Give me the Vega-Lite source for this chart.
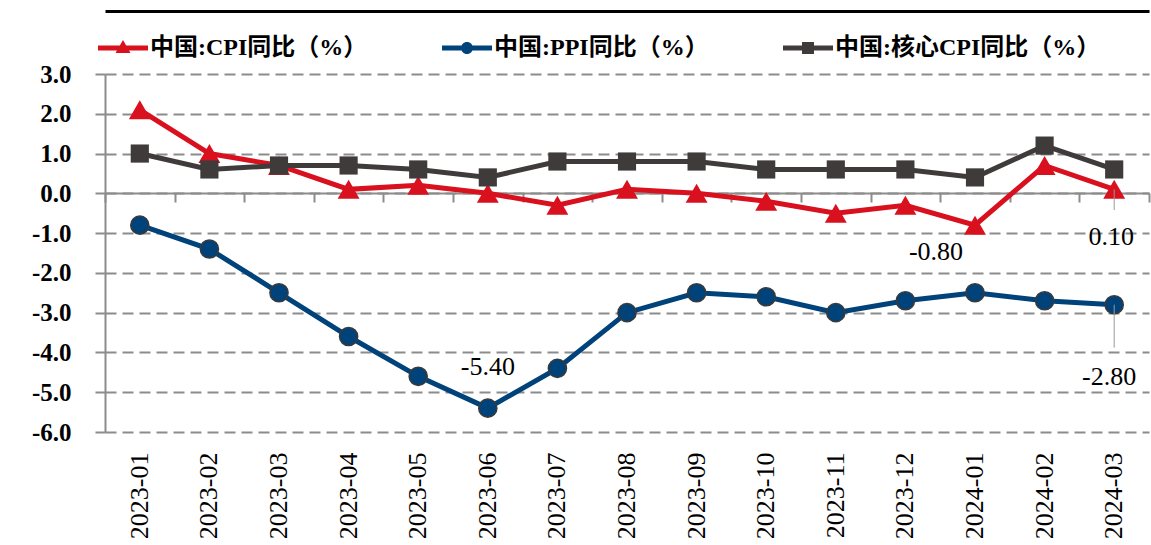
{
  "$schema": "https://vega.github.io/schema/vega-lite/v6.json",
  "width": 1044,
  "height": 358,
  "autosize": "none",
  "padding": {"left": 105, "top": 74, "right": 2, "bottom": 113},
  "background": "white",
  "config": {"view": {"stroke": null}, "font": "Liberation Serif",
             "locale": {"number": {"decimal": ".", "thousands": ",", "grouping": [3], "currency": ["$", ""], "minus": "-"}}},
  "data": {"values": [
    {"month": "2023-01", "series": "中国:CPI同比（%）", "value": 2.1},
    {"month": "2023-02", "series": "中国:CPI同比（%）", "value": 1.0},
    {"month": "2023-03", "series": "中国:CPI同比（%）", "value": 0.7},
    {"month": "2023-04", "series": "中国:CPI同比（%）", "value": 0.1},
    {"month": "2023-05", "series": "中国:CPI同比（%）", "value": 0.2},
    {"month": "2023-06", "series": "中国:CPI同比（%）", "value": 0.0},
    {"month": "2023-07", "series": "中国:CPI同比（%）", "value": -0.3},
    {"month": "2023-08", "series": "中国:CPI同比（%）", "value": 0.1},
    {"month": "2023-09", "series": "中国:CPI同比（%）", "value": 0.0},
    {"month": "2023-10", "series": "中国:CPI同比（%）", "value": -0.2},
    {"month": "2023-11", "series": "中国:CPI同比（%）", "value": -0.5},
    {"month": "2023-12", "series": "中国:CPI同比（%）", "value": -0.3},
    {"month": "2024-01", "series": "中国:CPI同比（%）", "value": -0.8},
    {"month": "2024-02", "series": "中国:CPI同比（%）", "value": 0.7},
    {"month": "2024-03", "series": "中国:CPI同比（%）", "value": 0.1},
    {"month": "2023-01", "series": "中国:PPI同比（%）", "value": -0.8},
    {"month": "2023-02", "series": "中国:PPI同比（%）", "value": -1.4},
    {"month": "2023-03", "series": "中国:PPI同比（%）", "value": -2.5},
    {"month": "2023-04", "series": "中国:PPI同比（%）", "value": -3.6},
    {"month": "2023-05", "series": "中国:PPI同比（%）", "value": -4.6},
    {"month": "2023-06", "series": "中国:PPI同比（%）", "value": -5.4},
    {"month": "2023-07", "series": "中国:PPI同比（%）", "value": -4.4},
    {"month": "2023-08", "series": "中国:PPI同比（%）", "value": -3.0},
    {"month": "2023-09", "series": "中国:PPI同比（%）", "value": -2.5},
    {"month": "2023-10", "series": "中国:PPI同比（%）", "value": -2.6},
    {"month": "2023-11", "series": "中国:PPI同比（%）", "value": -3.0},
    {"month": "2023-12", "series": "中国:PPI同比（%）", "value": -2.7},
    {"month": "2024-01", "series": "中国:PPI同比（%）", "value": -2.5},
    {"month": "2024-02", "series": "中国:PPI同比（%）", "value": -2.7},
    {"month": "2024-03", "series": "中国:PPI同比（%）", "value": -2.8},
    {"month": "2023-01", "series": "中国:核心CPI同比（%）", "value": 1.0},
    {"month": "2023-02", "series": "中国:核心CPI同比（%）", "value": 0.6},
    {"month": "2023-03", "series": "中国:核心CPI同比（%）", "value": 0.7},
    {"month": "2023-04", "series": "中国:核心CPI同比（%）", "value": 0.7},
    {"month": "2023-05", "series": "中国:核心CPI同比（%）", "value": 0.6},
    {"month": "2023-06", "series": "中国:核心CPI同比（%）", "value": 0.4},
    {"month": "2023-07", "series": "中国:核心CPI同比（%）", "value": 0.8},
    {"month": "2023-08", "series": "中国:核心CPI同比（%）", "value": 0.8},
    {"month": "2023-09", "series": "中国:核心CPI同比（%）", "value": 0.8},
    {"month": "2023-10", "series": "中国:核心CPI同比（%）", "value": 0.6},
    {"month": "2023-11", "series": "中国:核心CPI同比（%）", "value": 0.6},
    {"month": "2023-12", "series": "中国:核心CPI同比（%）", "value": 0.6},
    {"month": "2024-01", "series": "中国:核心CPI同比（%）", "value": 0.4},
    {"month": "2024-02", "series": "中国:核心CPI同比（%）", "value": 1.2},
    {"month": "2024-03", "series": "中国:核心CPI同比（%）", "value": 0.6}
  ]},
  "encoding": {
    "y": {"field": "value", "type": "quantitative",
          "scale": {"domain": [-6, 3], "nice": false, "zero": false},
          "axis": {"title": null, "values": [-6, -5, -4, -3, -2, -1, 0, 1, 2, 3], "format": ".1f",
                   "labelOverlap": false, "tickCount": 10,
                   "labelFont": "Liberation Serif", "labelFontWeight": "bold", "labelFontSize": 25,
                   "labelColor": "black", "labelPadding": 24,
                   "grid": true, "gridDash": [11, 6], "gridColor": "#8c8c8c", "gridWidth": 2,
                   "tickColor": "#8c8c8c", "tickSize": 10, "tickWidth": 2,
                   "domainColor": "#8c8c8c", "domainWidth": 2}}
  },
  "layer": [
    {
      "mark": {"type": "line", "strokeWidth": 5},
      "encoding": {
        "x": {"field": "month", "type": "ordinal", "sort": null,
              "scale": {"type": "band", "paddingInner": 0, "paddingOuter": 0},
              "axis": {"title": null, "labelAngle": -90, "labelAlign": "right", "labelBaseline": "middle",
                       "labelFont": "Liberation Serif", "labelFontSize": 26, "labelColor": "black",
                       "labelPadding": 20, "domain": false, "ticks": false, "grid": false}},
        "color": {"field": "series", "type": "nominal",
                  "scale": {"domain": ["中国:CPI同比（%）", "中国:PPI同比（%）", "中国:核心CPI同比（%）"],
                            "range": ["#d9101e", "#00427a", "#3f3b3a"]},
                  "legend": {"title": null, "orient": "none", "legendX": -7, "legendY": -51,
                             "direction": "horizontal",
                             "labelFont": "'Liberation Serif', 'Noto Sans CJK SC'", "labelFontSize": 24,
                             "labelFontWeight": "bold", "labelColor": "black", "labelLimit": 500,
                             "symbolSize": 2500, "symbolStrokeWidth": 0, "labelOffset": 2, "columnPadding": 74,
                             "encode": {"symbols": {"update": {
                               "shape": {"signal": "datum.value === '中国:核心CPI同比（%）' ? 'M-1,-0.1H1V0.1H-1Z M-0.24,-0.24H0.24V0.24H-0.24Z' : (datum.value === '中国:PPI同比（%）' ? 'M-1,-0.1H1V0.1H-1Z M0.24,0A0.24,0.24 0 1,1 -0.24,0A0.24,0.24 0 1,1 0.24,0Z' : 'M-1,-0.1H1V0.1H-1Z M0,-0.32L0.3,0.2H-0.3Z')"},
                               "fill": {"scale": "color", "field": "value"},
                               "stroke": {"value": "transparent"},
                               "opacity": {"value": 1}}}}}}
      }
    },
    {
      "transform": [{"filter": "datum.series === '中国:CPI同比（%）'"}],
      "mark": {"type": "point", "filled": true, "opacity": 1, "shape": "triangle-up", "size": 480, "color": "#d9101e"},
      "encoding": {
        "x": {"field": "month", "type": "ordinal", "sort": null,
              "axis": {"title": null, "labels": false, "grid": false, "ticks": true, "tickBand": "extent",
                       "tickSize": 9, "tickColor": "#8c8c8c", "tickWidth": 2,
                       "domainColor": "#8c8c8c", "domainWidth": 2, "offset": -239, "orient": "bottom"}}
      }
    },
    {
      "transform": [{"filter": "datum.series === '中国:PPI同比（%）'"}],
      "mark": {"type": "point", "filled": true, "opacity": 1, "shape": "circle", "size": 330, "fill": "#00427a", "stroke": "#3a3a3a", "strokeWidth": 1.5},
      "encoding": {
        "x": {"field": "month", "type": "ordinal", "sort": null, "axis": null}
      }
    },
    {
      "transform": [{"filter": "datum.series === '中国:核心CPI同比（%）'"}],
      "mark": {"type": "point", "filled": true, "opacity": 1, "shape": "square", "size": 330, "color": "#3f3b3a"},
      "encoding": {
        "x": {"field": "month", "type": "ordinal", "sort": null, "axis": null}
      }
    },
    {
      "transform": [{"filter": "datum.month === '2024-03' && datum.series === '中国:CPI同比（%）'"}],
      "mark": {"type": "rule", "color": "#999999", "strokeWidth": 1},
      "encoding": {
        "x": {"field": "month", "type": "ordinal", "sort": null,
              "axis": {"orient": "top", "title": null, "labels": false, "ticks": false, "grid": false,
                       "domainColor": "black", "domainWidth": 3, "offset": 63}},
        "y2": {"datum": -0.42}
      }
    },
    {
      "transform": [{"filter": "datum.month === '2024-03' && datum.series === '中国:PPI同比（%）'"}],
      "mark": {"type": "rule", "color": "#999999", "strokeWidth": 1},
      "encoding": {
        "x": {"field": "month", "type": "ordinal", "sort": null, "axis": null},
        "y2": {"datum": -3.88}
      }
    },
    {
      "transform": [{"filter": "datum.month === '2023-06' && datum.series === '中国:PPI同比（%）'"}],
      "mark": {"type": "text", "font": "Liberation Serif", "fontSize": 26, "color": "black", "align": "center", "baseline": "alphabetic", "dy": -33},
      "encoding": {
        "x": {"field": "month", "type": "ordinal", "sort": null, "axis": null},
        "text": {"field": "value", "type": "quantitative", "format": ".2f"}
      }
    },
    {
      "transform": [{"filter": "datum.month === '2024-01' && datum.series === '中国:CPI同比（%）'"}],
      "mark": {"type": "text", "font": "Liberation Serif", "fontSize": 26, "color": "black", "align": "center", "baseline": "alphabetic", "dx": -39, "dy": 35},
      "encoding": {
        "x": {"field": "month", "type": "ordinal", "sort": null, "axis": null},
        "text": {"field": "value", "type": "quantitative", "format": ".2f"}
      }
    },
    {
      "transform": [{"filter": "datum.month === '2024-03' && datum.series === '中国:CPI同比（%）'"}],
      "mark": {"type": "text", "font": "Liberation Serif", "fontSize": 26, "color": "black", "align": "center", "baseline": "alphabetic", "dx": -3, "dy": 56},
      "encoding": {
        "x": {"field": "month", "type": "ordinal", "sort": null, "axis": null},
        "text": {"field": "value", "type": "quantitative", "format": ".2f"}
      }
    },
    {
      "transform": [{"filter": "datum.month === '2024-03' && datum.series === '中国:PPI同比（%）'"}],
      "mark": {"type": "text", "font": "Liberation Serif", "fontSize": 26, "color": "black", "align": "center", "baseline": "alphabetic", "dx": -5, "dy": 80},
      "encoding": {
        "x": {"field": "month", "type": "ordinal", "sort": null, "axis": null},
        "text": {"field": "value", "type": "quantitative", "format": ".2f"}
      }
    }
  ],
  "resolve": {"axis": {"x": "independent"}}
}
